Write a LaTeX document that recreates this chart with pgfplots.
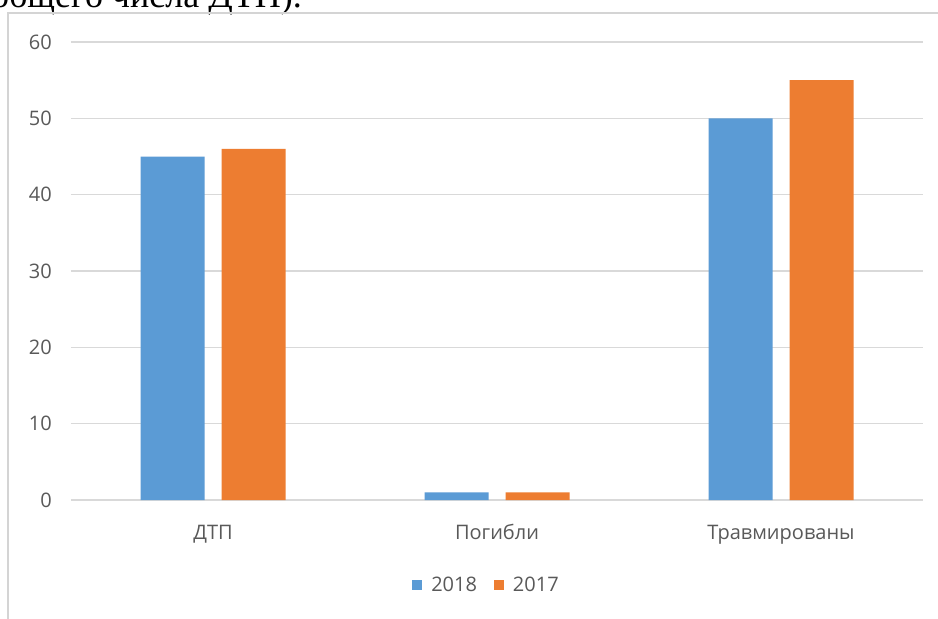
\documentclass[border=0pt]{standalone}
\usepackage{fontspec}
\usepackage{pgfplots}
\pgfplotsset{compat=1.18}
\setmainfont{Open Sans}
\newfontfamily\seriffont{Liberation Serif}
\definecolor{cblue}{HTML}{5B9BD5}
\definecolor{corange}{HTML}{ED7D31}
\definecolor{ctext}{HTML}{595959}
\definecolor{cgrid}{HTML}{D9D9D9}
\definecolor{cframe}{HTML}{D4D4D4}
\begin{document}
\begin{tikzpicture}[x=1pt,y=1pt]
\useasboundingbox (0,0) rectangle (938,619);
\clip (0,0) rectangle (938,619);
\fill[white] (0,0) rectangle (938,619);
\node[anchor=base east, inner sep=0pt, font=\seriffont\fontsize{36}{40}\selectfont] at (302,611) {общего числа ДТП).};
\draw[cframe, line width=2pt] (8,-5) -- (8,606) -- (945,606);
\begin{axis}[
  at={(71pt,119pt)}, anchor=south west,
  scale only axis, width=852pt, height=458pt,
  xmin=-0.5, xmax=2.5, ymin=0, ymax=60,
  ytick={0,10,20,30,40,50,60},
  xtick={0,1,2},
  xticklabels={ДТП,Погибли,Травмированы},
  axis line style={draw=none},
  ymajorgrids, grid style={cgrid, line width=1.3pt},
  major tick length=0pt,
  tick style={draw=none},
  tick label style={font=\fontsize{20}{24}\selectfont, text=ctext},
  yticklabel style={anchor=east, inner sep=0pt, xshift=-19pt},
  xticklabel style={anchor=base, inner sep=0pt, yshift=-39pt},
  /pgf/number format/assume math mode=true,
  ybar, bar width=64pt,
  legend columns=2,
  legend style={draw=none, fill=none, at={(0.4865,-0.1856)}, anchor=center,
    inner sep=0pt, font=\fontsize{20}{24}\selectfont, text=ctext,
    nodes={inner sep=0pt},
    /tikz/every odd column/.append style={column sep=9pt},
    /tikz/every even column/.append style={column sep=17pt}},
  legend image code/.code={\fill[#1] (0pt,-5pt) rectangle (10pt,5pt);},
  clip=false,
]
\addplot[fill=cblue, draw=none, bar shift=-40.5pt] coordinates {(0,45) (1,1) (2,50)};
\addplot[fill=corange, draw=none, bar shift=40.5pt] coordinates {(0,46) (1,1) (2,55)};
\legend{2018,2017}
\end{axis}
\end{tikzpicture}
\end{document}
